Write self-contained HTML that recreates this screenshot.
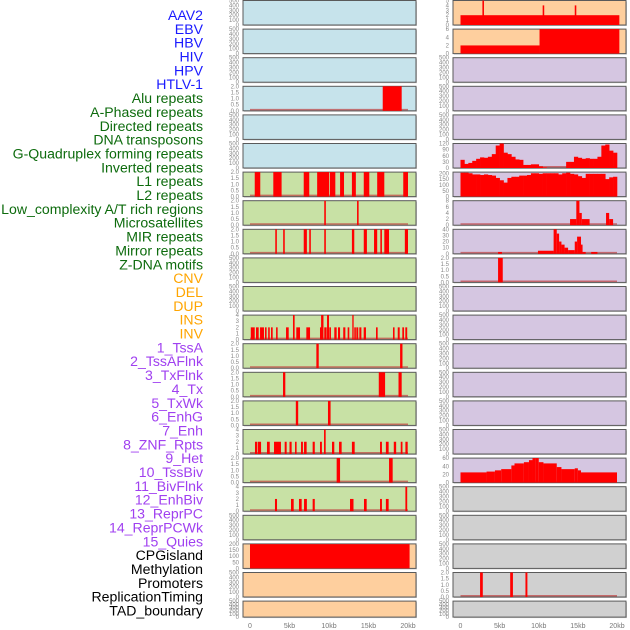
<!DOCTYPE html>
<html><head><meta charset="utf-8"><style>
html,body{margin:0;padding:0;background:#fff;width:630px;height:630px;overflow:hidden}
svg{display:block;font-family:"Liberation Sans",sans-serif}
</style></head><body>
<svg id="chart" width="630" height="630" viewBox="0 0 630 630" xmlns="http://www.w3.org/2000/svg"></svg>
<script>
// ---- data ----
const trackLabels = ["AAV2","EBV","HBV","HIV","HPV","HTLV-1","Alu repeats","A-Phased repeats","Directed repeats","DNA transposons","G-Quadruplex forming repeats","Inverted repeats","L1 repeats","L2 repeats","Low_complexity A/T rich regions","Microsatellites","MIR repeats","Mirror repeats","Z-DNA motifs","CNV","DEL","DUP","INS","INV","1_TssA","2_TssAFlnk","3_TxFlnk","4_Tx","5_TxWk","6_EnhG","7_Enh","8_ZNF_Rpts","9_Het","10_TssBiv","11_BivFlnk","12_EnhBiv","13_ReprPC","14_ReprPCWk","15_Quies","CPGisland","Methylation","Promoters","ReplicationTiming","TAD_boundary"];
const labelGroups = ["virus","virus","virus","virus","virus","virus","repeat","repeat","repeat","repeat","repeat","repeat","repeat","repeat","repeat","repeat","repeat","repeat","repeat","sv","sv","sv","sv","sv","chrom","chrom","chrom","chrom","chrom","chrom","chrom","chrom","chrom","chrom","chrom","chrom","chrom","chrom","chrom","other","other","other","other","other"];
const xTickValues = [0,5,10,15,20];
const xTickLabels = ["0","5kb","10kb","15kb","20kb"];
// bars: [startKb, endKb, value]
const aluBars = [[16.8,19.2,2]];
const leftRow6Bars = [[0.6,1.3,2],[2.95,4.0,2],[6.8,7.5,2],[8.5,10.0,2],[10.1,10.8,2],[11.4,11.9,2],[12.9,13.4,2],[14.4,15.1,2],[16.1,17.0,2],[19.4,20.0,2]];
const leftRow7Bars = [[9.4,9.6,2],[13.55,13.75,2]];
const leftRow8Bars = [[3.2,3.4,2],[4.2,4.4,2],[6.8,7.2,2],[7.5,7.7,2],[9.4,9.6,2],[12.9,13.2,2],[14.4,14.8,2],[15.7,16.1,2],[16.5,16.7,2],[17.0,17.6,2],[19.6,20.0,2]];
const insBars = [[0.1,0.6,2],[0.76,1.1,2],[1.27,1.77,2],[1.9,2.1,2],[2.3,2.5,2],[2.66,2.87,2],[3.3,3.5,2],[4.56,4.9,2],[5.44,5.65,4],[5.86,6.33,2],[7.13,7.6,2],[8.86,9.07,2],[9.0,9.3,4],[9.4,9.7,2],[9.75,10.0,4],[10.04,10.25,2],[10.67,10.97,2],[11.14,11.4,2],[11.8,12.07,2],[12.36,12.57,2],[12.95,13.12,4],[13.2,13.4,2],[13.46,13.7,2],[13.84,14.1,2],[14.39,14.68,2],[15.95,16.16,2],[18.1,18.3,2],[18.7,18.95,2],[19.28,19.5,2],[19.66,19.9,2]];
const leftRow12Bars = [[8.4,8.7,2],[19.0,19.3,2]];
const leftRow13Bars = [[4.18,4.47,2],[16.3,17.1,2],[18.8,19.2,2]];
const leftRow14Bars = [[5.8,6.1,2],[9.87,10.2,2]];
const leftRow15Bars = [[0.63,0.89,2],[0.97,1.4,2],[2.15,2.5,2],[3.04,3.92,2],[4.39,4.64,2],[5.0,5.27,2],[5.7,5.9,2],[6.46,6.7,2],[6.84,7.17,2],[7.93,8.2,2],[8.86,9.1,2],[9.37,9.58,4],[10.38,10.67,2],[11.27,11.6,2],[12.9,13.25,2],[16.46,16.7,2],[17.2,17.55,2],[18.2,18.5,2],[19.08,19.3,2],[19.67,19.96,2]];
const leftRow16Bars = [[10.97,11.4,2],[17.6,18.06,2]];
const leftRow17Bars = [[3.16,3.42,2],[5.19,5.53,2],[6.2,6.54,2],[6.84,7.2,2],[7.93,8.2,2],[12.66,13.1,2],[14.43,14.77,2],[16.46,16.7,2],[17.2,17.55,2],[19.67,19.9,4]];
const cpgBars = [[0,20.2,198]];
const rightRow0Bars = [[0,20.3,2],[2.8,3.0,5],[10.5,10.7,4],[14.6,14.8,4]];
const rightRow1Bars = [[0,10.1,2],[10.1,20.3,6]];
const gquadBins = [40,20,25,35,45,52,50,55,68,110,120,75,68,55,42,40,15,15,18,18,8,3,0,0,0,0,0,30,30,55,50,45,48,45,45,55,110,115,85,75];
const l1Bins = [205,205,200,190,190,185,190,185,180,160,140,120,160,170,170,180,180,185,200,200,195,200,200,200,200,190,200,205,195,190,175,160,195,195,195,195,195,150,165,170];
const lowComplexBars = [[14.0,14.8,2],[14.8,15.2,8],[15.2,15.5,4],[15.5,16.5,2],[18.6,19.0,4],[19.0,19.5,2]];
const mirBars = [[4.8,5.3,3],[9.9,11.9,5],[11.9,12.3,40],[12.3,12.6,33],[12.6,12.9,20],[12.9,13.3,15],[13.3,13.75,10],[13.75,14.6,6],[14.6,14.9,20],[14.9,15.4,28],[15.4,15.6,15],[15.6,16.0,3],[16.7,17.5,3]];
const zdnaBars = [[4.8,5.4,2]];
const hetBars = [[0,3.33,25],[3.33,4.4,27],[4.4,5.2,30],[5.2,6.5,33],[6.5,6.9,42],[6.9,8.1,47],[8.1,8.75,50],[8.75,9.2,55],[9.2,9.6,60],[9.6,10.0,63],[10.0,10.6,50],[10.6,12.3,47],[12.3,12.9,38],[12.9,14.6,33],[14.6,15.0,35],[15.0,15.4,30],[15.4,20.0,25]];
const promoterBars = [[2.5,2.85,2],[6.35,6.7,2],[8.3,8.55,2]];

const tickEmpty = ["0","100","200","300","400","500"];
const tick2 = ["0.0","0.5","1.0","1.5","2.0"];
const tick4 = ["0","1","2","3","4"];

const BLUE="#c6e3eb", GREEN="#c8e1a5", PEACH="#fecf9e", PURPLE="#d5c6e1", GREY="#d0d0d0";
const leftBg = [BLUE,BLUE,BLUE,BLUE,BLUE,BLUE,GREEN,GREEN,GREEN,GREEN,GREEN,GREEN,GREEN,GREEN,GREEN,GREEN,GREEN,GREEN,GREEN,PEACH,PEACH,PEACH];
const rightBg = [PEACH,PEACH,PURPLE,PURPLE,PURPLE,PURPLE,PURPLE,PURPLE,PURPLE,PURPLE,PURPLE,PURPLE,PURPLE,PURPLE,PURPLE,PURPLE,PURPLE,GREY,GREY,GREY,GREY,GREY];
const leftData = {3:[2,tick2,aluBars],6:[2,tick2,leftRow6Bars],7:[2,tick2,leftRow7Bars],8:[2,tick2,leftRow8Bars],11:[4,tick4,insBars],12:[2,tick2,leftRow12Bars],13:[2,tick2,leftRow13Bars],14:[2,tick2,leftRow14Bars],15:[4,tick4,leftRow15Bars],16:[2,tick2,leftRow16Bars],17:[4,tick4,leftRow17Bars],19:[200,["0","50","100","150","200"],cpgBars]};
const rightData = {0:[5,["0","1","2","3","4","5"],rightRow0Bars],1:[6,["0","2","4","6"],rightRow1Bars],5:[120,["0","30","60","90","120"],null,gquadBins],6:[210,["0","50","100","150","200"],null,l1Bins],7:[8,["0","2","4","6","8"],lowComplexBars],8:[40,["0","10","20","30","40"],mirBars],9:[2,tick2,zdnaBars],16:[60,["0","20","40","60"],hetBars],20:[2,tick2,promoterBars]};

// ---- drawing ----
const NS="http://www.w3.org/2000/svg";
const svg=document.getElementById('chart');
function mk(tag,attrs,parent){const e=document.createElementNS(NS,tag);for(const k in attrs)e.setAttribute(k,attrs[k]);(parent||svg).appendChild(e);return e;}
const groupColor={virus:"#1a1aff",repeat:"#0d6b0d",sv:"#ffa500",chrom:"#a040f0",other:"#000000"};
const nLab=trackLabels.length;
trackLabels.forEach((t,i)=>{
  const tx=mk('text',{x:203,y:20+i*((615.5-20)/(nLab-1)),'text-anchor':'end','font-size':14.1,fill:groupColor[labelGroups[i]]});
  
  
  tx.textContent=t;
});
const colX=[{x0:243,x1:416,d0:250,d20:408,tx:239},{x0:453,x1:626,d0:460.5,d20:617,tx:449}];
function rowTop(r){return r*28.6;}
function rowH(r){return r===21?16:24.5;}
function drawPanel(c,r,bg,spec){
  const C=colX[c];const top=rowTop(r)+0.5,h=rowH(r);
  const g=mk('g',{});
  
  
  mk('rect',{x:C.x0+1,y:top+1,width:C.x1-C.x0,height:h,fill:'#aaa',opacity:0.6},g);
  mk('rect',{x:C.x0,y:top,width:C.x1-C.x0,height:h,fill:bg,stroke:'#5a5a5a','stroke-width':1},g);
  const ymax=spec?spec[0]:500;const ticks=spec?spec[1]:tickEmpty;
  const yS=v=>top+h-(v/ymax)*h;
  const xS=kb=>C.d0+(C.d20-C.d0)*kb/20;
  ticks.forEach((t)=>{
    const ty=yS(parseFloat(t))+2;
    const e=mk('text',{x:C.tx,y:ty,'text-anchor':'end','font-size':6,fill:'#888'},g);
    
    
    e.textContent=t;
  });
  if(!spec)return;
  mk('line',{x1:xS(0),x2:xS(20),y1:top+h-1.2,y2:top+h-1.2,stroke:'#c04040','stroke-width':1.5,opacity:0.7},g);
  const bars=spec[2]||[];
  bars.forEach(b=>{
    const x=xS(b[0]),w=Math.max(1.2,xS(b[1])-xS(b[0]));
    const rr=mk('rect',{x:x,y:yS(Math.min(b[2],ymax)),width:w,height:top+h-yS(Math.min(b[2],ymax)),fill:'#ff0000'},g);
    
    
  });
  const bins=spec[3];
  if(bins){bins.forEach((v,i)=>{
    const x=xS(i*0.5),w=xS((i+1)*0.5)-x;
    const rr=mk('rect',{x:x,y:yS(Math.min(v,ymax)),width:w+0.3,height:top+h-yS(Math.min(v,ymax)),fill:'#ff0000'},g);
    
    
  });}
}
for(let r=0;r<22;r++){drawPanel(0,r,leftBg[r],leftData[r]);drawPanel(1,r,rightBg[r],rightData[r]);}
colX.forEach((C)=>{
  xTickValues.forEach((v,i)=>{
    const e=mk('text',{x:C.d0+(C.d20-C.d0)*v/20,y:628,'text-anchor':'middle','font-size':7,fill:'#777'});
    
    
    e.textContent=xTickLabels[i];
  });
});
</script>
</body></html>
